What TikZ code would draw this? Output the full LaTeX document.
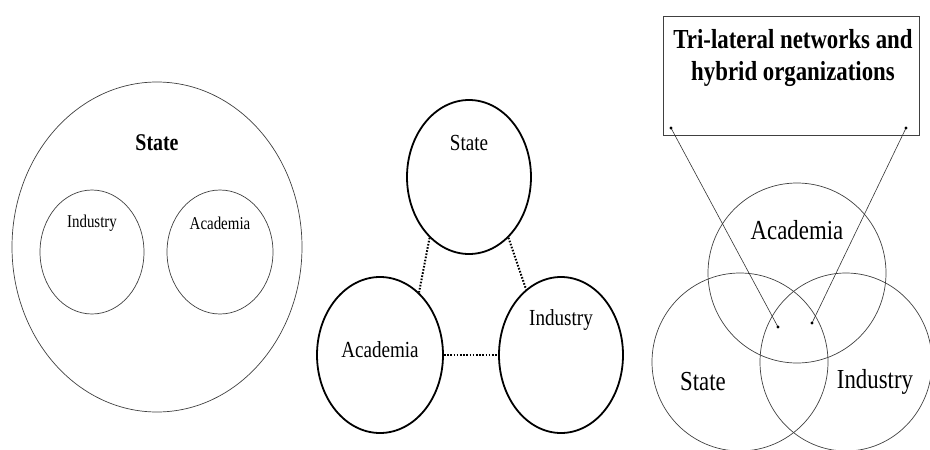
\documentclass[tikz,border=0pt]{standalone}
\usepackage{fontspec}
\setmainfont[FakeStretch=0.83]{Liberation Serif}
\usetikzlibrary{shapes.geometric}
\begin{document}
\begin{tikzpicture}[
    x=1pt, y=-1pt,
    every node/.style={inner sep=0pt},
    thinring/.style={ellipse, draw=black!75, line width=0.7pt},
    boldring/.style={ellipse, draw, line width=1.8pt},
    dotlink/.style={line width=2pt, dash pattern=on 1.6pt off 1.6pt},
    pointer/.style={draw=black!80, line width=0.6pt}
]
\useasboundingbox (0,0) rectangle (930,450);
% left: state contains the other two
\node[thinring, minimum width=290, minimum height=330] (bigstate) at (157,247) {};
\node[thinring, minimum width=104, minimum height=124] (inind) at (92,252) {};
\node[thinring, minimum width=106, minimum height=124] (inacad) at (220,252) {};
\node[font=\fontsize{24}{28}\selectfont\bfseries] at (157,143) {State};
\node[font=\fontsize{18}{21}\selectfont] at (92,223) {Industry};
\node[font=\fontsize{18}{21}\selectfont] at (220,223) {Academia};
% middle: three separate spheres
\node[boldring, minimum width=124, minimum height=154] (mstate) at (469,177) {};
\node[boldring, minimum width=126, minimum height=156] (macad) at (380,355) {};
\node[boldring, minimum width=124, minimum height=156] (mind) at (561,355) {};
\node[font=\fontsize{23}{26}\selectfont] at (469,143) {State};
\node[font=\fontsize{23}{26}\selectfont] at (380,350) {Academia};
\node[font=\fontsize{23}{26}\selectfont] at (561,320) {Industry};
\draw[dotlink] (mstate.-123) -- (macad.58);
\draw[dotlink] (mstate.-57) -- (mind.118);
\draw[dotlink] (macad.east) -- (mind.west);
% right: overlapping spheres
\node[draw=black!75, line width=0.7pt, minimum width=256, minimum height=119] (hybrid) at (791,75.5) {};
\node[font=\fontsize{27.5}{32}\selectfont\bfseries, align=center, anchor=north] at (793,29)
    {Tri-lateral networks and\\hybrid organizations};
\node[thinring, minimum width=178, minimum height=180] (racad) at (797,273) {};
\node[thinring, minimum width=176, minimum height=178] (rstate) at (740,362) {};
\node[thinring, minimum width=172, minimum height=178] (rind) at (846,362) {};
\node[font=\fontsize{27.5}{31}\selectfont] at (797,230) {Academia};
\node[font=\fontsize{27.5}{31}\selectfont] at (703,382) {State};
\node[font=\fontsize{27.5}{31}\selectfont] at (875,382) {Industry};
\coordinate (pl) at (671,128);
\coordinate (pr) at (906,128);
\coordinate (ql) at (778,327);
\coordinate (qr) at (812,323);
\draw[pointer] (pl) -- (ql);
\draw[pointer] (pr) -- (qr);
\foreach \p in {pl,pr,ql,qr} \fill (\p) circle (1.6);
\end{tikzpicture}
\end{document}
